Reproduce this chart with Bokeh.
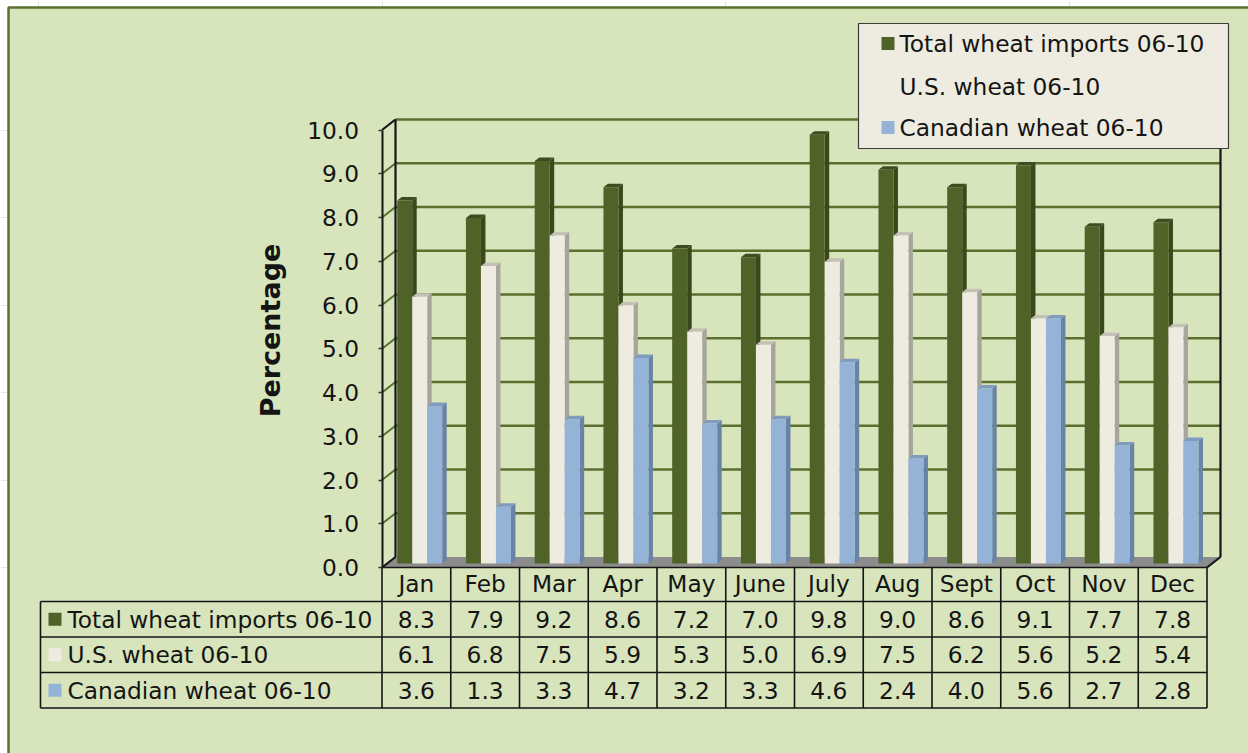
import math

from bokeh.core.properties import value
from bokeh.embed import file_html
from bokeh.models import FixedTicker, LinearAxis, PrintfTickFormatter, Range1d
from bokeh.plotting import figure
from bokeh.resources import INLINE

# ---- data -------------------------------------------------------------
months = ["Jan", "Feb", "Mar", "Apr", "May", "June", "July", "Aug", "Sept", "Oct", "Nov", "Dec"]
total_wheat = [8.3, 7.9, 9.2, 8.6, 7.2, 7.0, 9.8, 9.0, 8.6, 9.1, 7.7, 7.8]
us_wheat = [6.1, 6.8, 7.5, 5.9, 5.3, 5.0, 6.9, 7.5, 6.2, 5.6, 5.2, 5.4]
canadian_wheat = [3.6, 1.3, 3.3, 4.7, 3.2, 3.3, 4.6, 2.4, 4.0, 5.6, 2.7, 2.8]
series_names = ["Total wheat imports 06-10", "U.S. wheat 06-10", "Canadian wheat 06-10"]
y_ticks = [0, 1, 2, 3, 4, 5, 6, 7, 8, 9, 10]
y_title = "Percentage"

series_values = [total_wheat, us_wheat, canadian_wheat]

# ---- styling ------------------------------------------------------------
FONT = "DejaVu Sans"
FONT_SIZE = "23.3px"
TEXT = "#141414"
FACE = ["#4f6228", "#eeece1", "#95b3d7"]
SIDE = ["#3a481c", "#a7a69e", "#6983a6"]
TOP = ["#3e4d20", "#c4c2b7", "#7f9bbd"]
GRID = "#5b6f2e"
EDGE = "#151515"

# ---- canvas geometry: one category = 1 x unit, one percent = 1 y unit --
W, H = 1248, 753
ORIGIN_PX = 381.5   # front edge of category 0
ORIGIN_PY = 567.0   # front floor line (value 0)
CAT_PX = 68.75
UNIT_PX = 43.75


def sx(px):
    return (px - ORIGIN_PX) / CAT_PX


def sy(py):
    return (ORIGIN_PY - py) / UNIT_PX


n = len(months)
y_max = y_ticks[-1]

# perspective depth of the walls and of each column
WALL_DX, WALL_DY = 13.5 / CAT_PX, 10.5 / UNIT_PX
BAR_OFF = 15.2 / CAT_PX
BAR_W = 15.0 / CAT_PX
BAR_BASE = 4.0 / UNIT_PX
BAR_DX, BAR_DY = 4.5 / CAT_PX, 3.5 / UNIT_PX

p = figure(
    width=W, height=H,
    x_range=Range1d(sx(0), sx(W)), y_range=Range1d(sy(H), sy(0)),
    x_axis_location=None, y_axis_location=None,
    toolbar_location=None, output_backend="svg",
    min_border=0, min_border_left=0, min_border_right=0,
    min_border_top=0, min_border_bottom=0,
    background_fill_color="white", border_fill_color="white",
    outline_line_color=None,
)

# chart area
p.quad(left=[sx(8)], right=[sx(W + 30)], top=[sy(7)], bottom=[sy(H + 30)],
       fill_color="#d8e4bc", line_color="#5b7030", line_width=2.5)

# back wall gridlines and their continuation on the side wall
grid_vals = [v for v in y_ticks if v > 0]
p.segment(x0=[WALL_DX] * len(grid_vals), y0=[v + WALL_DY for v in grid_vals],
          x1=[n + WALL_DX] * len(grid_vals), y1=[v + WALL_DY for v in grid_vals],
          line_color=GRID, line_width=2.5)
side_vals = [v for v in y_ticks if 0 < v < y_max]
p.segment(x0=[0] * len(side_vals), y0=side_vals,
          x1=[WALL_DX] * len(side_vals), y1=[v + WALL_DY for v in side_vals],
          line_color=GRID, line_width=2)

# floor
p.patch(x=[0, n, n + WALL_DX, WALL_DX], y=[0, 0, WALL_DY, WALL_DY],
        fill_color="#8c8c8c", line_color=None)

# wall edges
p.segment(x0=[WALL_DX, n + WALL_DX, 0, 0, n],
          y0=[WALL_DY, WALL_DY, y_max, 0, 0],
          x1=[WALL_DX, n + WALL_DX, WALL_DX, WALL_DX, n + WALL_DX],
          y1=[y_max + WALL_DY, y_max + WALL_DY, y_max + WALL_DY, WALL_DY, WALL_DY],
          line_color=EDGE, line_width=2.2)

# columns: side face, top face, front face for each series
for s, vals in enumerate(series_values):
    lefts = [i + BAR_OFF + s * BAR_W for i in range(n)]
    rights = [l + BAR_W for l in lefts]
    bottoms = [BAR_BASE] * n
    tops = [BAR_BASE + v for v in vals]
    side_xs = [[r, r + BAR_DX, r + BAR_DX, r] for r in rights]
    side_ys = [[b, b + BAR_DY, t + BAR_DY, t] for b, t in zip(bottoms, tops)]
    p.patches(xs=side_xs, ys=side_ys, fill_color=SIDE[s], line_color=None)
    top_xs = [[l, r, r + BAR_DX, l + BAR_DX] for l, r in zip(lefts, rights)]
    top_ys = [[t, t, t + BAR_DY, t + BAR_DY] for t in tops]
    p.patches(xs=top_xs, ys=top_ys, fill_color=TOP[s], line_color=None)
    p.quad(left=lefts, right=rights, bottom=bottoms, top=tops,
           fill_color=FACE[s], line_color=None)

# value axis on the front edge
yaxis = LinearAxis(
    fixed_location=0, bounds=(0, y_max),
    ticker=FixedTicker(ticks=y_ticks, minor_ticks=[]),
    formatter=PrintfTickFormatter(format="%.1f"),
    major_tick_out=4, major_tick_in=0, minor_tick_out=0, minor_tick_in=0,
    major_label_standoff=19,
    axis_line_color=EDGE, axis_line_width=2,
    major_tick_line_color="#333333", major_tick_line_width=1.5,
    major_label_text_font=FONT, major_label_text_font_size=FONT_SIZE,
    major_label_text_color=TEXT,
)
p.add_layout(yaxis, "left")

p.text(x=[sx(270)], y=[sy(330)], text=[y_title], angle=math.pi / 2,
       text_font=value(FONT), text_font_size="27px", text_font_style="bold",
       text_color=TEXT, text_align="center", text_baseline="middle")

# ---- data table under the floor ----------------------------------------
row_edges = [567.0, 601.0, 636.5, 672.0, 707.5]
table_left = sx(40)
# horizontal rules
p.segment(x0=[0] + [table_left] * 4, y0=[0] + [sy(r) for r in row_edges[1:]],
          x1=[n] * 5, y1=[0] + [sy(r) for r in row_edges[1:]],
          line_color=EDGE, line_width=1.6)
# vertical rules
p.segment(x0=[table_left] + list(range(n + 1)),
          y0=[sy(row_edges[1])] + [0] * (n + 1),
          x1=[table_left] + list(range(n + 1)),
          y1=[sy(row_edges[-1])] * (n + 2),
          line_color=EDGE, line_width=1.6)

centers = [(a + b) / 2 for a, b in zip(row_edges[:-1], row_edges[1:])]
p.text(x=[i + 0.5 for i in range(n)], y=[sy(centers[0] - 1)] * n, text=months,
       text_font=value(FONT), text_font_size=FONT_SIZE, text_color=TEXT,
       text_align="center", text_baseline="middle")

for s, vals in enumerate(series_values):
    cy = sy(centers[s + 1])
    p.text(x=[i + 0.5 for i in range(n)], y=[cy] * n, text=[f"{v:.1f}" for v in vals],
           text_font=value(FONT), text_font_size=FONT_SIZE, text_color=TEXT,
           text_align="center", text_baseline="middle")
    p.quad(left=[sx(48)], right=[sx(61)], top=[cy + 6.5 / UNIT_PX], bottom=[cy - 6.5 / UNIT_PX],
           fill_color=FACE[s], line_color=None)
    p.text(x=[sx(67)], y=[cy], text=[series_names[s]],
           text_font=value(FONT), text_font_size=FONT_SIZE, text_color=TEXT,
           text_align="left", text_baseline="middle")

# ---- legend box ----------------------------------------------------------
p.quad(left=[sx(858)], right=[sx(1228)], top=[sy(23)], bottom=[sy(148)],
       fill_color="#eeece1", line_color="#3c3c3c", line_width=1.2)
legend_rows = [43.0, 85.5, 127.0]
for s, ry in enumerate(legend_rows):
    cy = sy(ry)
    p.quad(left=[sx(881)], right=[sx(894)], top=[cy + 6.5 / UNIT_PX], bottom=[cy - 6.5 / UNIT_PX],
           fill_color=FACE[s], line_color=None)
    p.text(x=[sx(899)], y=[cy], text=[series_names[s]],
           text_font=value(FONT), text_font_size=FONT_SIZE, text_color=TEXT,
           text_align="left", text_baseline="middle")

with open("out.html", "w", encoding="utf-8") as f:
    f.write(file_html(p, INLINE))
